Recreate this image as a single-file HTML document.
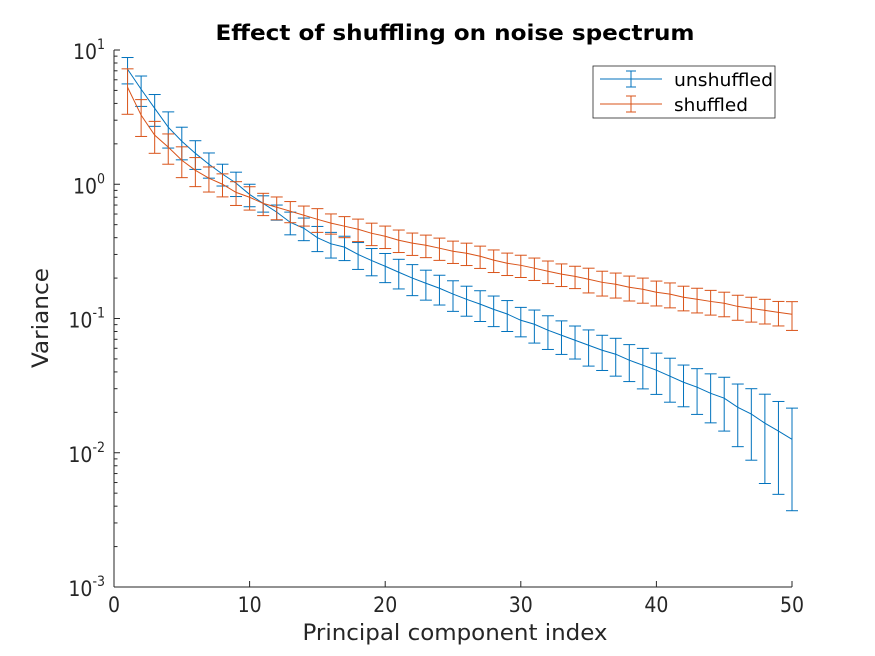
<!DOCTYPE html>
<html><head><meta charset="utf-8"><style>
body{margin:0;background:#fff;}
svg{display:block;font-family:"DejaVu Sans Condensed","DejaVu Sans","Liberation Sans",sans-serif;font-stretch:condensed;}
</style></head><body>
<svg id="chart" width="875" height="656">
<rect width="875" height="656" fill="#fff"/>
<text x="455" y="40" text-anchor="middle" font-weight="bold" font-size="21" textLength="479" lengthAdjust="spacingAndGlyphs" fill="#000">Effect of shuffling on noise spectrum</text>
<g id="axes"></g>
<g id="series"></g>
<text x="455" y="640" text-anchor="middle" font-size="22" textLength="305" lengthAdjust="spacingAndGlyphs" fill="#262626">Principal component index</text>
<text transform="translate(48,318) rotate(-90)" text-anchor="middle" font-size="22" textLength="100" lengthAdjust="spacingAndGlyphs" fill="#262626">Variance</text>
<g>
<rect x="593" y="66" width="182" height="52" fill="#fff" stroke="#262626" stroke-width="0.8"/>
<g>
<line x1="600" y1="79" x2="662" y2="79" stroke="#0072BD"/>
<line x1="631" y1="71" x2="631" y2="87" stroke="#0072BD"/>
<line x1="626" y1="71" x2="636" y2="71" stroke="#0072BD"/>
<line x1="626" y1="87" x2="636" y2="87" stroke="#0072BD"/>
<text x="674" y="86" font-size="18" textLength="99" lengthAdjust="spacingAndGlyphs" fill="#000">unshuffled</text>
</g>
<g>
<line x1="600" y1="104" x2="662" y2="104" stroke="#D95319"/>
<line x1="631" y1="96" x2="631" y2="112" stroke="#D95319"/>
<line x1="626" y1="96" x2="636" y2="96" stroke="#D95319"/>
<line x1="626" y1="112" x2="636" y2="112" stroke="#D95319"/>
<text x="674" y="111" font-size="18" textLength="74" lengthAdjust="spacingAndGlyphs" fill="#000">shuffled</text>
</g>
</g>
</svg>
<script>
const xTicks=[0,10,20,30,40,50];
const yTickExps=[1,0,-1,-2,-3];
const unshuffledMean=[7.19,5.10,3.68,2.66,2.09,1.70,1.41,1.19,1.02,0.84,0.72,0.62,0.52,0.47,0.40,0.36,0.34,0.30,0.27,0.245,0.221,0.200,0.183,0.168,0.152,0.139,0.128,0.117,0.108,0.097,0.0906,0.0818,0.0750,0.0689,0.0632,0.0580,0.0542,0.0489,0.0449,0.0412,0.0372,0.0335,0.0308,0.0277,0.0255,0.0218,0.0194,0.0166,0.0145,0.0126];
const unshuffledErr=[1.6,1.3,0.98,0.8,0.57,0.41,0.3,0.22,0.21,0.16,0.1,0.08,0.1,0.09,0.085,0.078,0.07,0.068,0.062,0.06,0.055,0.052,0.046,0.042,0.039,0.035,0.033,0.03,0.028,0.024,0.025,0.023,0.021,0.019,0.019,0.017,0.017,0.015,0.015,0.014,0.0134,0.0115,0.0115,0.011,0.011,0.0107,0.0106,0.0107,0.0096,0.0089];
const shuffledMean=[5.28,3.27,2.32,1.89,1.51,1.27,1.11,1.0,0.87,0.80,0.72,0.674,0.63,0.588,0.548,0.513,0.487,0.462,0.431,0.41,0.383,0.364,0.351,0.334,0.317,0.306,0.291,0.272,0.258,0.249,0.237,0.225,0.214,0.206,0.196,0.186,0.18,0.171,0.165,0.157,0.152,0.144,0.139,0.134,0.13,0.123,0.119,0.115,0.111,0.1075];
const shuffledErr=[1.96,1.0,0.62,0.48,0.39,0.31,0.235,0.195,0.175,0.158,0.136,0.13,0.113,0.1,0.11,0.088,0.087,0.088,0.082,0.078,0.073,0.069,0.067,0.063,0.06,0.058,0.055,0.052,0.049,0.047,0.045,0.043,0.041,0.039,0.041,0.039,0.038,0.036,0.035,0.033,0.032,0.030,0.029,0.028,0.027,0.026,0.025,0.024,0.023,0.026];

const NS='http://www.w3.org/2000/svg';
const X0=114,X1=792,Y0=587,Y1=50;
function xs(v){return X0+(v-0)/(50-0)*(X1-X0);}
function ys(v){const l=Math.log10(Math.max(v,1e-4));return Y0-(l-(-3))/(1-(-3))*(Y0-Y1);}
function mk(tag,attrs,parent){const e=document.createElementNS(NS,tag);for(const k in attrs)e.setAttribute(k,attrs[k]);parent.appendChild(e);return e;}
const ax=document.getElementById('axes');
const ser=document.getElementById('series');
const tc='#262626';
let l=mk('line',{x1:X0,y1:Y0,x2:X1,y2:Y0,stroke:tc},ax);


l=mk('line',{x1:X0,y1:Y0,x2:X0,y2:Y1,stroke:tc},ax);


xTicks.forEach(v=>{
  const x=xs(v);
  mk('line',{x1:x,y1:Y0,x2:x,y2:Y0-6,stroke:tc},ax);
  const t=mk('text',{x:x,y:612,'text-anchor':'middle','font-size':'21',fill:tc},ax);
  t.textContent=v;
  
  
});
yTickExps.forEach(e=>{
  const y=ys(Math.pow(10,e));
  mk('line',{x1:X0,y1:y,x2:X0+6,y2:y,stroke:tc},ax);
  const t=mk('text',{x:X0-9,y:y+9,'text-anchor':'end','font-size':'21',fill:tc},ax);
  t.textContent='10';
  const s=mk('tspan',{dy:'-10','font-size':'14'},t);
  s.textContent=e;
  
  
  if(e<1){for(let m=2;m<=9;m++){const ym=ys(m*Math.pow(10,e));mk('line',{x1:X0,y1:ym,x2:X0+3.5,y2:ym,stroke:tc},ax);}}
});
function drawSeries(mean,err,color,name){
  const g=mk('g',{},ser);
  
  
  mean.forEach((m,i)=>{
    const x=xs(i+1);
    const top=ys(m+err[i]),bot=ys(m-err[i]);
    const b=mk('g',{stroke:color,'stroke-width':1},g);
    
    
    mk('line',{x1:x,y1:top,x2:x,y2:bot},b);
    mk('line',{x1:x-6,y1:top,x2:x+6,y2:top},b);
    mk('line',{x1:x-6,y1:bot,x2:x+6,y2:bot},b);
  });
  const p=mk('polyline',{points:mean.map((m,i)=>xs(i+1)+','+ys(m)).join(' '),fill:'none',stroke:color,'stroke-width':1},g);
  
  
}
drawSeries(unshuffledMean,unshuffledErr,'#0072BD','unshuffled');
drawSeries(shuffledMean,shuffledErr,'#D95319','shuffled');
</script>
</body></html>
